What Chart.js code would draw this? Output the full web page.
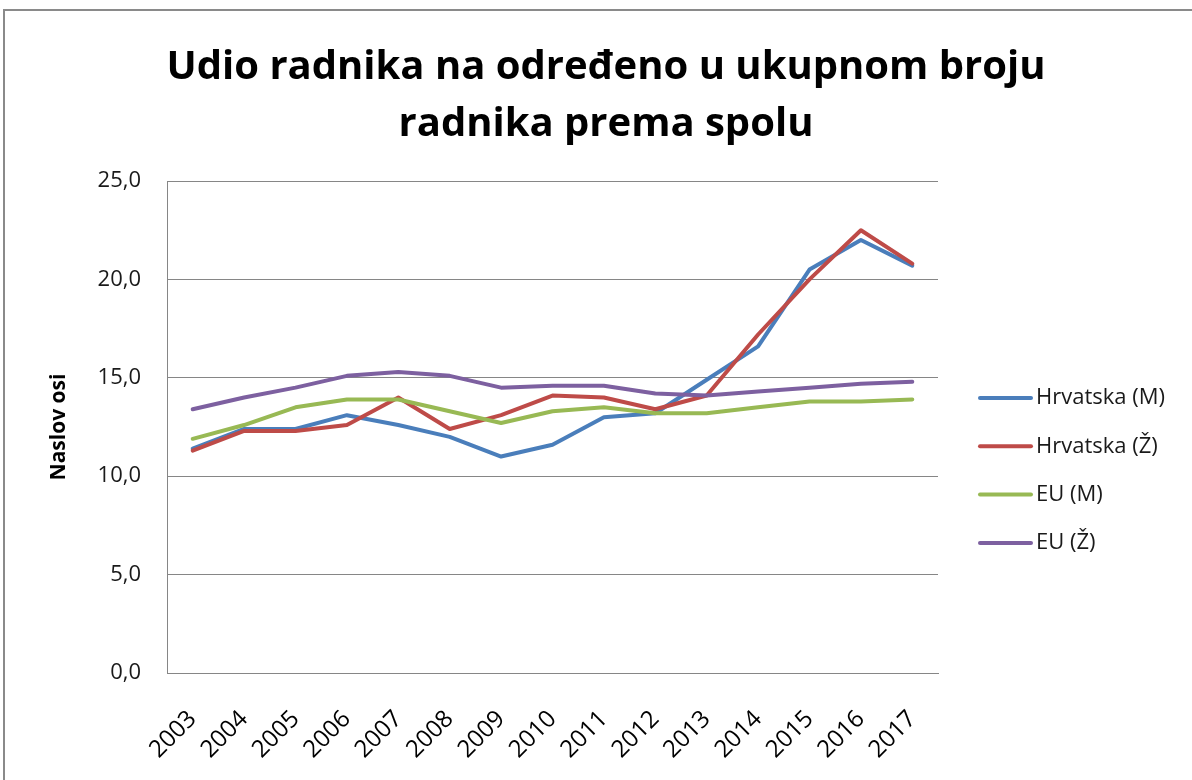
<!DOCTYPE html>
<html lang="hr">
<head>
    <meta charset="UTF-8">
    <meta name="viewport" content="width=device-width, initial-scale=1.0">
    <title>Udio radnika na određeno u ukupnom broju radnika prema spolu</title>
    <script src="https://cdn.jsdelivr.net/npm/chart.js"></script>
    <style>
        html, body { margin: 0; padding: 0; background: #fff; overflow: hidden; }
        .okvir {
            position: absolute; left: 3px; top: 9px;
            width: 1300px; height: 900px;
            border: 2px solid #8a8a8a;
        }
        .chart-container { position: absolute; left: 0; top: 0; width: 1212px; height: 780px; }
    </style>
</head>
<body>
    <div class="okvir"></div>
    <div class="chart-container">
        <canvas id="udioChart"></canvas>
    </div>

    <script>
        const godine = ['2003', '2004', '2005', '2006', '2007', '2008', '2009', '2010',
                        '2011', '2012', '2013', '2014', '2015', '2016', '2017'];
        const hrvatskaM = [11.4, 12.4, 12.4, 13.1, 12.6, 12.0, 11.0, 11.6, 13.0, 13.2, 14.9, 16.6, 20.5, 22.0, 20.7];
        const hrvatskaZ = [11.3, 12.3, 12.3, 12.6, 14.0, 12.4, 13.1, 14.1, 14.0, 13.4, 14.1, 17.2, 20.0, 22.5, 20.8];
        const euM = [11.9, 12.6, 13.5, 13.9, 13.9, 13.3, 12.7, 13.3, 13.5, 13.2, 13.2, 13.5, 13.8, 13.8, 13.9];
        const euZ = [13.4, 14.0, 14.5, 15.1, 15.3, 15.1, 14.5, 14.6, 14.6, 14.2, 14.1, 14.3, 14.5, 14.7, 14.8];

        const FONT = 'Open Sans';

        // legenda desno, kao u Excelu: crta + tekst
        const legendaDesno = {
            id: 'legendaDesno',
            afterDraw(chart) {
                const ctx = chart.ctx;
                ctx.save();
                ctx.font = '22px "' + FONT + '"';
                ctx.textBaseline = 'middle';
                ctx.fillStyle = '#1a1a1a';
                chart.data.datasets.forEach((ds, i) => {
                    const y = 398 + i * 48.3;
                    ctx.strokeStyle = ds.borderColor;
                    ctx.lineWidth = 4;
                    ctx.lineCap = 'round';
                    ctx.beginPath();
                    ctx.moveTo(980, y);
                    ctx.lineTo(1031, y);
                    ctx.stroke();
                    ctx.fillText(ds.label, 1036, y);
                });
                ctx.restore();
            }
        };

        const ctx = document.getElementById('udioChart').getContext('2d');
        new Chart(ctx, {
            type: 'line',
            data: {
                labels: godine,
                datasets: [
                    { label: 'Hrvatska (M)', data: hrvatskaM, borderColor: '#4a7ebb', backgroundColor: '#4a7ebb', order: 4 },
                    { label: 'Hrvatska (Ž)', data: hrvatskaZ, borderColor: '#be4b48', backgroundColor: '#be4b48', order: 3 },
                    { label: 'EU (M)', data: euM, borderColor: '#98b954', backgroundColor: '#98b954', order: 2 },
                    { label: 'EU (Ž)', data: euZ, borderColor: '#7d60a0', backgroundColor: '#7d60a0', order: 1 }
                ]
            },
            options: {
                responsive: true,
                maintainAspectRatio: false,
                animation: false,
                layout: { padding: 0 },
                elements: {
                    line: { tension: 0, borderWidth: 4, borderJoinStyle: 'round', borderCapStyle: 'round' },
                    point: { radius: 0 }
                },
                plugins: {
                    legend: { display: false },
                    tooltip: { enabled: false },
                    title: {
                        display: true,
                        text: ['Udio radnika na određeno u ukupnom broju', 'radnika prema spolu'],
                        color: '#000',
                        font: { family: FONT, size: 40, weight: 'bold', lineHeight: '57px' },
                        padding: { top: 39, bottom: 28 }
                    }
                },
                scales: {
                    x: {
                        offset: true,
                        grid: { display: false },
                        border: { color: '#868686', width: 1 },
                        ticks: {
                            autoSkip: false,
                            minRotation: 45,
                            maxRotation: 45,
                            padding: 24,
                            color: '#000',
                            font: { family: FONT, size: 24 }
                        },
                        afterFit(scale) { scale.height = 107; }
                    },
                    y: {
                        min: 0,
                        max: 25,
                        grid: { color: '#868686', drawTicks: false },
                        border: { color: '#868686', width: 1 },
                        ticks: {
                            stepSize: 5,
                            padding: 26,
                            color: '#1a1a1a',
                            font: { family: FONT, size: 22 },
                            callback: v => v.toFixed(1).replace('.', ',')
                        },
                        title: {
                            display: true,
                            text: 'Naslov osi',
                            color: '#000',
                            font: { family: FONT, size: 21, weight: 'bold' },
                            padding: { top: 46, bottom: 0 }
                        },
                        afterFit(scale) { scale.width = 167; }
                    },
                    // prazan prostor za legendu
                    prostorLegende: {
                        type: 'linear',
                        position: 'right',
                        grid: { display: false },
                        border: { display: false },
                        ticks: { display: false },
                        afterFit(scale) { scale.width = 274; }
                    }
                }
            },
            plugins: [legendaDesno]
        });
    </script>
</body>
</html>
